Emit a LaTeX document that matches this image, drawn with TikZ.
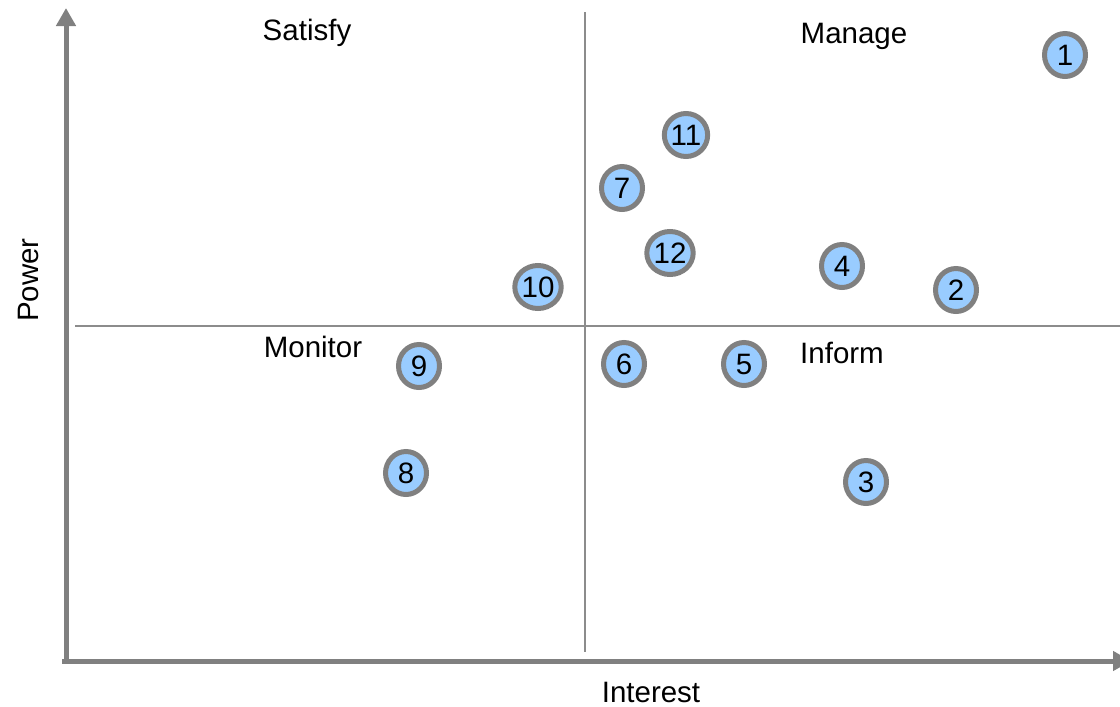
\documentclass[tikz,border=0pt]{standalone}
\usepackage{fontspec}
\setmainfont{Liberation Sans}
\usetikzlibrary{arrows.meta,shapes.geometric}
\definecolor{axisgray}{HTML}{808080}
\definecolor{linegray}{HTML}{8C8C8C}
\definecolor{dotfill}{HTML}{99CCFF}
\tikzset{
  axisline/.style={draw=axisgray, line width=5pt, -{Triangle[width=19pt,length=18pt]}},
  divider/.style={draw=linegray, line width=2pt},
  quadlabel/.style={font=\fontsize{29.5}{31}\selectfont, inner sep=0pt},
  stakeholder/.style={ellipse, draw=axisgray, fill=dotfill, line width=5pt,
    minimum width=41pt, minimum height=43pt, inner sep=0pt,
    font=\fontsize{29.5}{31}\selectfont}
}
\begin{document}
\begin{tikzpicture}[x=1pt,y=-1pt]
  \clip (0,0) rectangle (1120,707);
  \useasboundingbox (0,0) rectangle (1120,707);
  % axes
  \coordinate (ytip) at (66,8);
  \coordinate (xtip) at (1131,661);
  \coordinate (xstart) at (62,661);
  \coordinate (ystart) at (66,663);
  \draw[axisline] (ystart) -- (ytip);
  \draw[axisline] (xstart) -- (xtip);
  % quadrant dividers
  \coordinate (vtop) at (585,12);
  \coordinate (vbot) at (585,652);
  \coordinate (hleft) at (75,326);
  \coordinate (hright) at (1120,326);
  \draw[divider] (vtop) -- (vbot);
  \draw[divider] (hleft) -- (hright);
  % quadrant and axis labels
  \node[quadlabel] (satisfy) at (307,33) {Satisfy};
  \node[quadlabel] (manage) at (854,36) {Manage};
  \node[quadlabel] (monitor) at (313,347) {Monitor};
  \node[quadlabel] (inform) at (842,353) {Inform};
  \node[quadlabel] (interest) at (651,692) {Interest};
  \node[quadlabel, rotate=90] (power) at (28,280) {Power};
  % stakeholders
  \node[stakeholder] (s1) at (1065,55) {1};
  \node[stakeholder] (s2) at (956,290) {2};
  \node[stakeholder] (s3) at (866,482) {3};
  \node[stakeholder] (s4) at (842,266) {4};
  \node[stakeholder] (s5) at (744,364) {5};
  \node[stakeholder] (s6) at (624,364) {6};
  \node[stakeholder] (s7) at (622,188) {7};
  \node[stakeholder] (s8) at (406,473) {8};
  \node[stakeholder] (s9) at (419,366) {9};
  \node[stakeholder] (s10) at (538,287) {10};
  \node[stakeholder] (s11) at (686,135) {11};
  \node[stakeholder] (s12) at (670,253) {12};
\end{tikzpicture}
\end{document}
